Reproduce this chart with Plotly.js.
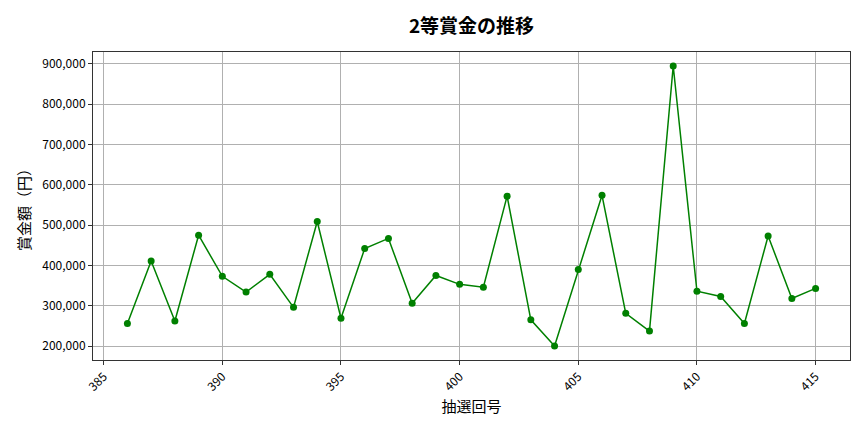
<!DOCTYPE html>
<html>
<head>
<meta charset="utf-8">
<script src="https://cdn.plot.ly/plotly-3.0.1.min.js"></script>
<style>
  html, body { margin: 0; padding: 0; background: #fff; }
  #chart { width: 864px; height: 432px; }
</style>
</head>
<body>
<div id="chart"></div>
<script>
// 抽選回号 and 2等賞金 (円)
const draws = [386, 387, 388, 389, 390, 391, 392, 393, 394, 395,
               396, 397, 398, 399, 400, 401, 402, 403, 404, 405,
               406, 407, 408, 409, 410, 411, 412, 413, 414, 415];
const prize = [256000, 411000, 262000, 475000, 373000, 334000, 378000, 296000, 509000, 269000,
               442000, 467000, 306000, 375000, 353000, 346000, 572000, 265000, 200000, 390000,
               574000, 281000, 237000, 895000, 336000, 323000, 256000, 473000, 318000, 343000];
const xTicks = [385, 390, 395, 400, 405, 410, 415];
const yTicks = [200000, 300000, 400000, 500000, 600000, 700000, 800000, 900000];

const font = "'Noto Sans CJK JP', 'Noto Sans', sans-serif";

const trace = {
    x: draws,
    y: prize,
    type: 'scatter',
    mode: 'lines+markers',
    line: { color: 'green', width: 1.5 },
    marker: { color: 'green', size: 7 },
    hoverinfo: 'x+y'
};

const layout = {
    width: 864,
    height: 432,
    margin: { l: 93, r: 14, t: 52, b: 72 },
    paper_bgcolor: '#fff',
    plot_bgcolor: '#fff',
    font: { family: font, color: '#000', size: 12 },
    title: {
        text: '2等賞金の推移',
        font: { family: font, size: 19, color: '#000', weight: 'bold' },
        xref: 'paper', x: 0.5, xanchor: 'center',
        yref: 'container', y: 0.94, yanchor: 'middle'
    },
    showlegend: false,
    xaxis: {
        range: [384.55, 416.45],
        tickvals: xTicks,
        ticktext: xTicks.map(String),
        tickangle: -45,
        ticks: 'outside', ticklen: 4, tickcolor: '#333',
        showgrid: true, gridcolor: '#b0b0b0', gridwidth: 1,
        showline: true, linecolor: '#333', linewidth: 1, mirror: true,
        zeroline: false,
        tickfont: { size: 12 },
        title: { text: '抽選回号', font: { size: 15 }, standoff: 8 }
    },
    yaxis: {
        range: [165250, 929750],
        tickvals: yTicks,
        ticktext: yTicks.map(v => v.toLocaleString('en-US')),
        ticks: 'outside', ticklen: 4, tickcolor: '#333',
        showgrid: true, gridcolor: '#b0b0b0', gridwidth: 1,
        showline: true, linecolor: '#333', linewidth: 1, mirror: true,
        zeroline: false,
        tickfont: { size: 12 },
        title: { text: '賞金額（円）', font: { size: 15 }, standoff: 8 }
    }
};

Plotly.newPlot('chart', [trace], layout, { displayModeBar: false, staticPlot: true });
</script>
</body>
</html>
